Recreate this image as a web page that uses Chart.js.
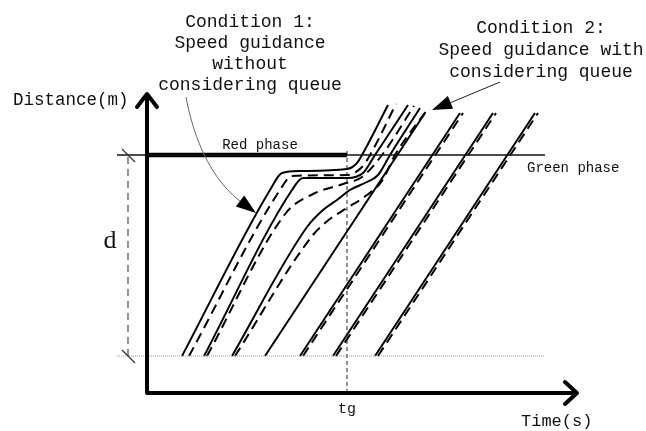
<!DOCTYPE html>
<html>
<head>
<meta charset="utf-8">
<script src="https://cdn.jsdelivr.net/npm/chart.js@4"></script>
<style>
  html, body { margin: 0; padding: 0; background: #fff; }
  canvas { display: block; }
</style>
</head>
<body>
<canvas id="myChart" width="646" height="431"></canvas>
<script>
// time / distance in drawing units, origin at the axes corner
const tMax = 430;
const dMax = 299;
const stopLine = 238;   // stop line (red / green phase)
const queueLine = 37;   // upstream point, d below the stop line
const tg = 200;         // start of green
const lineFrom = -30;
const lineTo = 398;
const dimAt = -19;      // where the "d" dimension is drawn

// vehicles that slow down before green: solid = condition 1, dashed = condition 2
const vehA = [[35, 37], [123, 203], [135, 220], [153, 222], [200, 224], [210, 230], [215, 238], [241, 288]];
const vehAq = [[42, 37], [133, 203], [145, 217], [200, 218], [215, 226], [223, 238], [249, 289]];
const vehB = [[57, 37], [145, 203], [156, 215], [200, 215], [216, 220], [228, 238], [261, 288]];
const vehBq = [[60, 37], [139, 180], [166, 199], [196, 209], [215, 216], [235, 238], [267, 287]];
const vehC = [[85, 37], [160, 166], [176, 183], [190, 193], [203, 203], [220, 211], [231, 218], [243, 238], [273, 285]];
const vehCq = [[88, 37], [166, 158], [183, 174], [200, 185], [220, 198], [235, 212], [248, 238], [280, 283]];

// vehicles that pass without slowing down
const freeStart = [118, 153, 186, 228];
const freeEnd = [278, 313, 346, 388];
const freeStartQ = [156, 189, 231];
const freeEndQ = [316, 349, 391];
const freeTop = 280;

const pts = (arr) => arr.map(([t, d]) => ({ x: t, y: d }));

const curve = (arr, dashed) => ({
  data: pts(arr),
  borderColor: '#000',
  borderWidth: 2,
  borderDash: dashed ? [10, 6] : [],
  cubicInterpolationMode: 'monotone',
  pointRadius: 0,
  clip: false,
});

const straight = (t0, t1, dashed) => curve([[t0, queueLine], [t1, freeTop]], dashed);

const datasets = [
  // reference lines
  { data: pts([[lineFrom, stopLine], [lineTo, stopLine]]), borderColor: '#111', borderWidth: 1.4, pointRadius: 0, clip: false },
  { data: pts([[0, stopLine], [tg, stopLine]]), borderColor: '#000', borderWidth: 4.5, pointRadius: 0, clip: false },
  { data: pts([[lineFrom, queueLine], [lineTo, queueLine]]), borderColor: '#999', borderWidth: 1, borderDash: [1, 1], pointRadius: 0, clip: false },
  { data: pts([[tg, 0], [tg, stopLine + 4]]), borderColor: '#222', borderWidth: 1, borderDash: [4, 3], pointRadius: 0, clip: false },
  { data: pts([[dimAt, queueLine], [dimAt, stopLine]]), borderColor: '#777', borderWidth: 1.6, borderDash: [7, 5], pointRadius: 0, clip: false },
  curve(vehA, false), curve(vehAq, true),
  curve(vehB, false), curve(vehBq, true),
  curve(vehC, false), curve(vehCq, true),
];
freeStart.forEach((t, i) => datasets.push(straight(t, freeEnd[i], false)));
freeStartQ.forEach((t, i) => datasets.push(straight(t, freeEndQ[i], true)));

const arrowHead = (ctx, fx, fy, tx, ty, len, half) => {
  const a = Math.atan2(ty - fy, tx - fx);
  ctx.beginPath();
  ctx.moveTo(tx, ty);
  ctx.lineTo(tx - len * Math.cos(a) + half * Math.sin(a), ty - len * Math.sin(a) - half * Math.cos(a));
  ctx.lineTo(tx - len * Math.cos(a) - half * Math.sin(a), ty - len * Math.sin(a) + half * Math.cos(a));
  ctx.closePath();
  ctx.fill();
};

const sketch = {
  id: 'sketch',
  afterDraw(chart) {
    const { ctx, scales: { x, y } } = chart;
    const x0 = x.getPixelForValue(0);
    const y0 = y.getPixelForValue(0);
    const xEnd = x.getPixelForValue(tMax);
    const yEnd = y.getPixelForValue(dMax);
    ctx.save();

    // axes with open arrows
    ctx.strokeStyle = '#000';
    ctx.lineWidth = 4;
    ctx.lineCap = 'round';
    ctx.lineJoin = 'round';
    ctx.beginPath();
    ctx.moveTo(x0, y0); ctx.lineTo(x0, yEnd + 2);
    ctx.moveTo(x0, y0); ctx.lineTo(xEnd - 2, y0);
    ctx.stroke();
    ctx.beginPath();
    ctx.moveTo(x0 - 10, yEnd + 13); ctx.lineTo(x0, yEnd); ctx.lineTo(x0 + 10, yEnd + 13);
    ctx.moveTo(xEnd - 12, y0 - 11); ctx.lineTo(xEnd, y0); ctx.lineTo(xEnd - 12, y0 + 11);
    ctx.stroke();

    // dimension ticks for d
    const dx = x.getPixelForValue(dimAt);
    ctx.lineWidth = 1.2;
    ctx.strokeStyle = '#333';
    ctx.lineCap = 'butt';
    [stopLine, queueLine].forEach((v) => {
      const py = y.getPixelForValue(v);
      ctx.beginPath();
      ctx.moveTo(dx - 6, py - 6); ctx.lineTo(dx + 7, py + 7);
      ctx.stroke();
    });

    // condition 1 arrow (curved)
    ctx.strokeStyle = '#666';
    ctx.lineWidth = 1;
    ctx.beginPath();
    ctx.moveTo(186, 97);
    ctx.bezierCurveTo(194, 140, 212, 182, 244, 204);
    ctx.stroke();
    ctx.fillStyle = '#000';
    arrowHead(ctx, 236, 198, 256, 213, 20, 7);

    // condition 2 arrow
    ctx.strokeStyle = '#222';
    ctx.beginPath();
    ctx.moveTo(500, 82); ctx.lineTo(445, 105);
    ctx.stroke();
    arrowHead(ctx, 500, 82, 432, 110, 20, 7);

    // texts
    ctx.fillStyle = '#111';
    ctx.textBaseline = 'middle';
    ctx.textAlign = 'center';
    ctx.font = '18px "Liberation Mono"';
    ['Condition 1:', 'Speed guidance', 'without', 'considering queue'].forEach((s, i) => {
      ctx.fillText(s, 250, 22 + i * 21);
    });
    ['Condition 2:', 'Speed guidance with', 'considering queue'].forEach((s, i) => {
      ctx.fillText(s, 541, 28 + i * 22);
    });
    ctx.textAlign = 'left';
    ctx.font = '17.5px "Liberation Mono"';
    ctx.fillText('Distance(m)', 13, 100);
    ctx.font = '17px "Liberation Mono"';
    ctx.fillText('Time(s)', 521, 421);
    ctx.font = '14px "Liberation Mono"';
    ctx.textAlign = 'center';
    ctx.fillText('Red phase', 260, 145);
    ctx.textAlign = 'left';
    ctx.fillText('Green phase', 527, 168);
    ctx.font = '15px "Liberation Mono"';
    ctx.textAlign = 'center';
    ctx.fillText('tg', x.getPixelForValue(tg), 409);
    ctx.font = '26px "Liberation Serif"';
    ctx.fillText('d', 110, 241);
    ctx.restore();
  },
};

const config = {
  type: 'line',
  data: { datasets },
  options: {
    responsive: false,
    animation: false,
    events: [],
    layout: { padding: { left: 147, right: 69, top: 94, bottom: 38 } },
    plugins: { legend: { display: false }, tooltip: { enabled: false } },
    scales: {
      x: { type: 'linear', min: 0, max: tMax, display: false },
      y: { type: 'linear', min: 0, max: dMax, display: false },
    },
  },
  plugins: [sketch],
};

const myChart = new Chart(document.getElementById('myChart'), config);
</script>
</body>
</html>
